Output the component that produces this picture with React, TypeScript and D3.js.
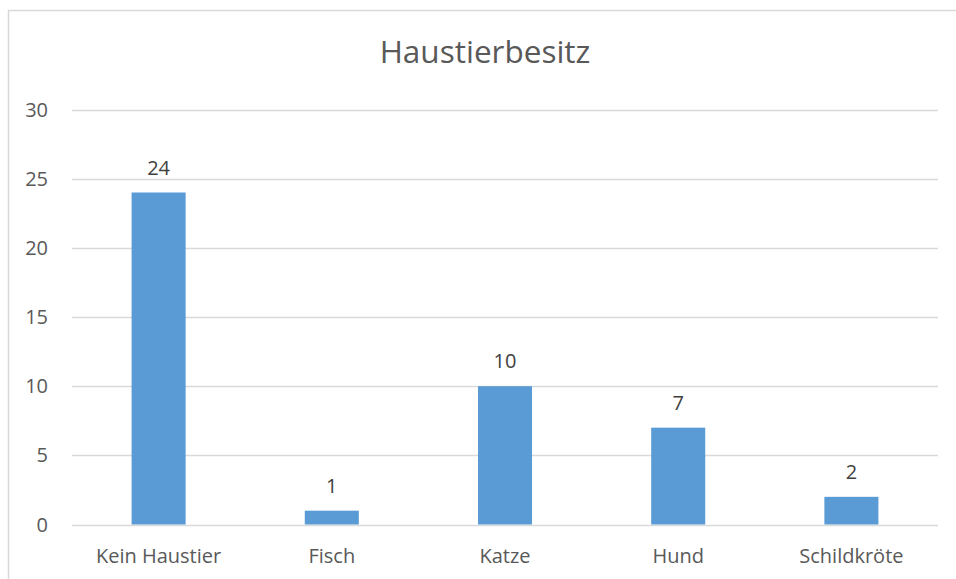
import { useEffect, useRef } from 'react';
import * as d3 from 'd3';

const categories = ['Kein Haustier', 'Fisch', 'Katze', 'Hund', 'Schildkröte'];
const values = [24, 1, 10, 7, 2];
const yTicks = [0, 5, 10, 15, 20, 25, 30];
const title = 'Haustierbesitz';

const App = () => {
  const svgRef = useRef<SVGSVGElement | null>(null);

  useEffect(() => {
    const width = 956;
    const height = 579;
    const left = 72;
    const right = 938;
    const top = 109.5;
    const bottom = 524.5;
    const font = '"Open Sans", sans-serif';
    const textColor = '#595959';

    const svg = d3.select(svgRef.current);
    svg.selectAll('*').remove();
    svg.attr('width', width).attr('height', height);

    // 背景與外框
    svg.append('rect').attr('width', width).attr('height', height).attr('fill', '#fff');
    svg
      .append('rect')
      .attr('x', 8.5)
      .attr('y', 10.5)
      .attr('width', 960)
      .attr('height', 600)
      .attr('fill', 'none')
      .attr('stroke', '#d9d9d9')
      .attr('stroke-width', 1.5);

    const x = d3
      .scaleBand()
      .domain(categories)
      .range([left, right])
      .paddingInner(0.688)
      .paddingOuter(0.344);

    const y = d3.scaleLinear().domain([0, 30]).range([bottom, top]);

    // 標題
    svg
      .append('text')
      .attr('x', 485)
      .attr('y', 63)
      .attr('text-anchor', 'middle')
      .style('font-family', font)
      .style('font-size', '31.5px')
      .attr('fill', textColor)
      .text(title);

    // 格線
    svg
      .append('g')
      .selectAll('line')
      .data(yTicks)
      .join('line')
      .attr('x1', left)
      .attr('x2', right)
      .attr('y1', (d) => Math.round(y(d)) + 0.5)
      .attr('y2', (d) => Math.round(y(d)) + 0.5)
      .attr('stroke', '#d9d9d9')
      .attr('stroke-width', 1.5);

    // Y 軸標籤
    svg
      .append('g')
      .selectAll('text')
      .data(yTicks)
      .join('text')
      .attr('x', 48)
      .attr('y', (d) => y(d) + 7)
      .attr('text-anchor', 'end')
      .style('font-family', font)
      .style('font-size', '20px')
      .attr('fill', textColor)
      .text((d) => d);

    // 長條
    svg
      .append('g')
      .selectAll('rect')
      .data(values)
      .join('rect')
      .attr('x', (d, i) => x(categories[i]) as number)
      .attr('y', (d) => y(d))
      .attr('width', x.bandwidth())
      .attr('height', (d) => bottom - y(d))
      .attr('fill', '#5b9bd5');

    // 數值標籤
    svg
      .append('g')
      .selectAll('text')
      .data(values)
      .join('text')
      .attr('x', (d, i) => (x(categories[i]) as number) + x.bandwidth() / 2)
      .attr('y', (d) => y(d) - 18)
      .attr('text-anchor', 'middle')
      .style('font-family', font)
      .style('font-size', '20px')
      .attr('fill', '#404040')
      .text((d) => d);

    // X 軸類別
    svg
      .append('g')
      .selectAll('text')
      .data(categories)
      .join('text')
      .attr('x', (d) => (x(d) as number) + x.bandwidth() / 2)
      .attr('y', 563)
      .attr('text-anchor', 'middle')
      .style('font-family', font)
      .style('font-size', '20px')
      .attr('fill', textColor)
      .text((d) => d);
  }, []);

  return (
    <svg
      ref={svgRef}
      style={{ position: 'absolute', left: 0, top: 0, display: 'block' }}
    ></svg>
  );
};

export default App;
